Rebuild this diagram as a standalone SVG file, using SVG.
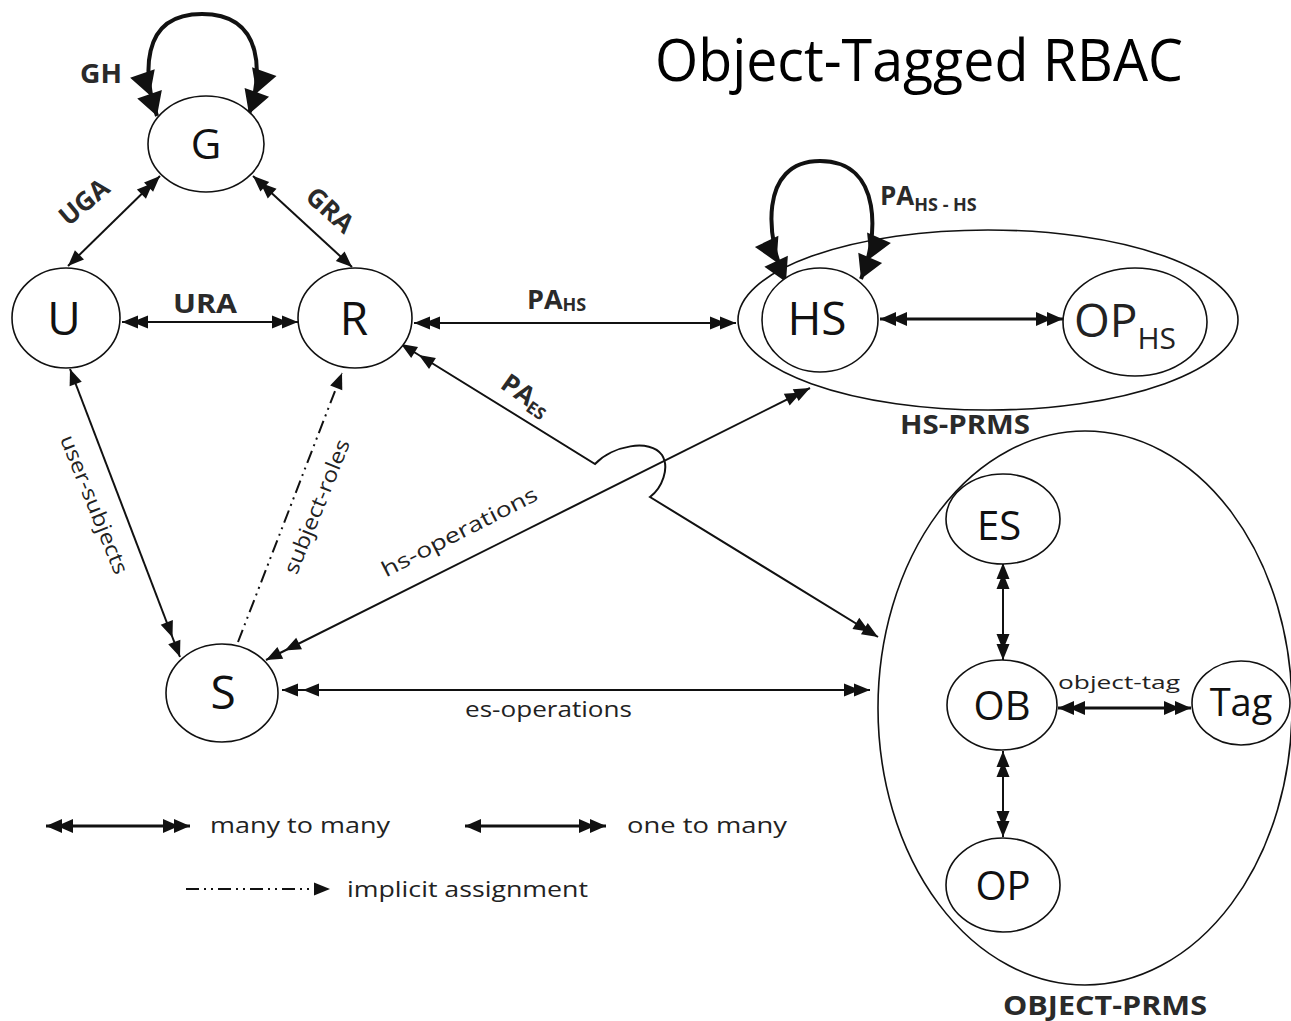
<svg xmlns="http://www.w3.org/2000/svg" width="1291" height="1021" viewBox="0 0 1291 1021">
<style>
.bg{fill:#fff}
.node ellipse{fill:#fff;stroke:#111;stroke-width:1.6}
.cont{fill:none;stroke:#111;stroke-width:1.6}
.nl{font-family:"Open Sans","DejaVu Sans",sans-serif;fill:#111;text-anchor:middle}
.lbl{font-family:"Open Sans","DejaVu Sans",sans-serif;font-weight:bold;fill:#2a2a2a}
.txt{font-family:"Open Sans","DejaVu Sans",sans-serif;fill:#222}
.c{fill:none;stroke:#111;stroke-width:2}
.c3{fill:none;stroke:#111;stroke-width:3}
.loop{fill:none;stroke:#111;stroke-width:4}
.dd{stroke-dasharray:13 5 2 5 2 5}
</style>
<defs>
<marker id="s1" markerUnits="userSpaceOnUse" markerWidth="17" markerHeight="13" refX="16" refY="6.5" orient="auto-start-reverse" overflow="visible"><path d="M0,0 L16,6.5 L0,13 z" fill="#111"/></marker>
<marker id="d1" markerUnits="userSpaceOnUse" markerWidth="27" markerHeight="13" refX="26" refY="6.5" orient="auto-start-reverse" overflow="visible"><path d="M0,0 L16,6.5 L0,13 z M10,0 L26,6.5 L10,13 z" fill="#111"/></marker>
<marker id="d1w" markerUnits="userSpaceOnUse" markerWidth="38" markerHeight="13" refX="37" refY="6.5" orient="auto-start-reverse" overflow="visible"><path d="M0,0 L16,6.5 L0,13 z M21,0 L37,6.5 L21,13 z" fill="#111"/></marker>
<marker id="s2" markerUnits="userSpaceOnUse" markerWidth="17" markerHeight="14" refX="16" refY="7" orient="auto-start-reverse" overflow="visible"><path d="M0,0 L16,7 L0,14 z" fill="#111"/></marker>
<marker id="d2" markerUnits="userSpaceOnUse" markerWidth="28" markerHeight="14" refX="27" refY="7" orient="auto-start-reverse" overflow="visible"><path d="M0,0 L16,7 L0,14 z M11,0 L27,7 L11,14 z" fill="#111"/></marker>
<marker id="big" markerUnits="userSpaceOnUse" markerWidth="46" markerHeight="26" refX="45" refY="13" orient="auto-start-reverse" overflow="visible"><path d="M0,0 L23,13 L0,26 z M22,0 L45,13 L22,26 z" fill="#111"/></marker>
</defs>
<rect class="bg" x="0" y="0" width="1291" height="1021"/>

<text id="title" x="655" y="81" font-family="'Open Sans','DejaVu Sans',sans-serif" font-size="58" fill="#000" textLength="528" lengthAdjust="spacingAndGlyphs">Object-Tagged RBAC</text>

<g id="containers">
<ellipse id="hs-prms" class="cont" cx="988" cy="320" rx="250" ry="90"/>
<ellipse id="object-prms" class="cont" cx="1085" cy="708" rx="207" ry="277"/>
<text class="lbl" x="900" y="434" font-size="26" textLength="130" lengthAdjust="spacingAndGlyphs">HS-PRMS</text>
<text class="lbl" x="1003" y="1015" font-size="26" textLength="204" lengthAdjust="spacingAndGlyphs">OBJECT-PRMS</text>
</g>

<g id="connectors">
<path class="loop" d="M157,116 C144,78 138,14 202,14 C266,14 262,78 249,114" marker-start="url(#big)" marker-end="url(#big)"/>
<path class="loop" d="M786,282 C766,240 758,161 820,161 C884,161 878,240 861,279" marker-start="url(#big)" marker-end="url(#big)"/>
<path class="c" d="M68,266 L160,176" marker-start="url(#s1)" marker-end="url(#d1)"/>
<path class="c" d="M253,176 L352,267" marker-start="url(#d1)" marker-end="url(#s1)"/>
<path class="c" d="M122,322 L298,322" marker-start="url(#d1)" marker-end="url(#d1)"/>
<path class="c" d="M414,323 L736,323" marker-start="url(#d1)" marker-end="url(#d1)"/>
<path class="c3" d="M880,319 L1063,319" marker-start="url(#d2)" marker-end="url(#d2)"/>
<path class="c" d="M401,344 L595,464 C612,446 650,438 662,455 C670,468 662,488 650,497 L878,637" marker-start="url(#d1w)" marker-end="url(#d1)"/>
<path class="c" d="M266,660 L810,388" marker-start="url(#d1w)" marker-end="url(#d1)"/>
<path class="c" d="M70,369 L180,657" marker-start="url(#s1)" marker-end="url(#d1w)"/>
<path class="c dd" d="M238,642 L342,373" marker-end="url(#s1)"/>
<path class="c" d="M282,690 L870,690" marker-start="url(#d1w)" marker-end="url(#d1)"/>
<path class="c" d="M1003,563 L1003,660" marker-start="url(#d1)" marker-end="url(#d1)"/>
<path class="c" d="M1003,751 L1003,837" marker-start="url(#d1)" marker-end="url(#d1)"/>
<path class="c3" d="M1058,708 L1191,708" marker-start="url(#d2)" marker-end="url(#d2)"/>

<text class="lbl" x="80" y="83" font-size="27" textLength="42" lengthAdjust="spacingAndGlyphs">GH</text>
<text class="lbl" transform="translate(84,202) rotate(-40)" x="0" y="9" font-size="26" text-anchor="middle">UGA</text>
<text class="lbl" transform="translate(330,210) rotate(42)" x="0" y="9" font-size="26" text-anchor="middle">GRA</text>
<text class="lbl" x="173" y="313" font-size="27" textLength="64" lengthAdjust="spacingAndGlyphs">URA</text>
<text class="lbl" x="527" y="309" font-size="27">PA<tspan font-size="18" dy="2">HS</tspan></text>
<text class="lbl" x="880" y="205" font-size="26">PA<tspan font-size="18" dy="6">HS - HS</tspan></text>
<text class="lbl" transform="translate(526,395) rotate(35)" x="0" y="9" font-size="26" text-anchor="middle">PA<tspan font-size="17" dy="4">ES</tspan></text>
<text class="txt" transform="translate(460,533) rotate(-27)" x="0" y="6" font-size="21" text-anchor="middle" textLength="172" lengthAdjust="spacingAndGlyphs">hs-operations</text>
<text class="txt" transform="translate(93,505) rotate(68)" x="0" y="6" font-size="21" text-anchor="middle" textLength="148" lengthAdjust="spacingAndGlyphs">user-subjects</text>
<text class="txt" transform="translate(318,507) rotate(-68)" x="0" y="6" font-size="21" text-anchor="middle" textLength="143" lengthAdjust="spacingAndGlyphs">subject-roles</text>
<text class="txt" x="465" y="717" font-size="21" textLength="167" lengthAdjust="spacingAndGlyphs">es-operations</text>
<text class="txt" x="1058" y="689" font-size="19" textLength="122" lengthAdjust="spacingAndGlyphs">object-tag</text>
</g>

<g id="node-G" class="node"><ellipse cx="206" cy="144" rx="58" ry="48"/><text class="nl" x="206" y="159" font-size="42">G</text></g>
<g id="node-U" class="node"><ellipse cx="66" cy="318" rx="54" ry="50"/><text class="nl" x="64" y="335" font-size="46">U</text></g>
<g id="node-R" class="node"><ellipse cx="355" cy="318" rx="57" ry="50"/><text class="nl" x="354" y="335" font-size="46">R</text></g>
<g id="node-S" class="node"><ellipse cx="222" cy="693" rx="56" ry="49"/><text class="nl" x="223" y="709" font-size="46">S</text></g>
<g id="node-HS" class="node"><ellipse cx="820" cy="320" rx="58" ry="52"/><text class="nl" x="817" y="335" font-size="46">HS</text></g>
<g id="node-OPHS" class="node"><ellipse cx="1135" cy="322" rx="72" ry="54"/><text class="txt" x="1074" y="337" font-size="46" fill="#111">OP<tspan font-size="30" dy="12">HS</tspan></text></g>
<g id="node-ES" class="node"><ellipse cx="1003" cy="519" rx="57" ry="45"/><text class="nl" x="999" y="540" font-size="40">ES</text></g>
<g id="node-OB" class="node"><ellipse cx="1002" cy="705" rx="55" ry="45"/><text class="nl" x="1002" y="720" font-size="40">OB</text></g>
<g id="node-OP" class="node"><ellipse cx="1003" cy="885" rx="57" ry="47"/><text class="nl" x="1003" y="900" font-size="40">OP</text></g>
<g id="node-Tag" class="node"><ellipse cx="1241" cy="703" rx="49" ry="42"/><text class="nl" x="1241" y="716" font-size="38">Tag</text></g>

<g id="legend">
<path class="c3" d="M46,826 L190,826" marker-start="url(#d2)" marker-end="url(#d2)"/>
<text class="txt" x="210" y="833" font-size="22" textLength="180" lengthAdjust="spacingAndGlyphs">many to many</text>
<path class="c3" d="M465,826 L606,826" marker-start="url(#s2)" marker-end="url(#d2)"/>
<text class="txt" x="627" y="833" font-size="22" textLength="160" lengthAdjust="spacingAndGlyphs">one to many</text>
<path class="c dd" d="M186,889 L330,889" marker-end="url(#s1)"/>
<text class="txt" x="347" y="897" font-size="22" textLength="241" lengthAdjust="spacingAndGlyphs">implicit assignment</text>
</g>
</svg>
